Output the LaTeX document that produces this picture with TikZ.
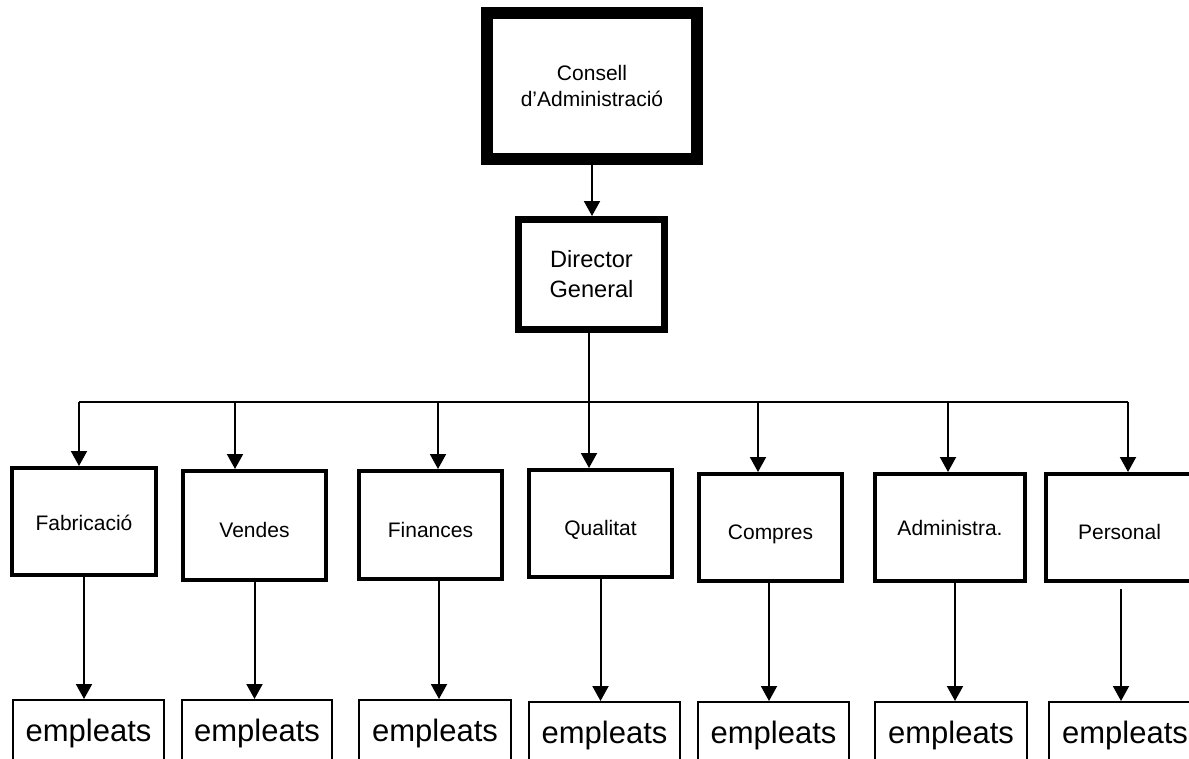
\documentclass[tikz,border=0pt]{standalone}
\usepackage{fontspec}
\setmainfont{Liberation Sans}
\usetikzlibrary{arrows.meta}

\begin{document}
\begin{tikzpicture}[x=1pt, y=-1pt,
  consell/.style={draw, line width=12pt, minimum width=210pt, minimum height=146pt, inner sep=0pt, align=center, font=\fontsize{21}{26}\selectfont},
  director/.style={draw, line width=7pt, minimum width=146pt, minimum height=110pt, inner sep=0pt, align=center, font=\fontsize{23.6}{30}\selectfont},
  dept/.style={draw, line width=4pt, minimum height=107pt, inner sep=0pt, text height=24pt, text depth=0pt, font=\fontsize{21}{25}\selectfont},
  emp/.style={draw, line width=2pt, minimum height=66pt, inner sep=0pt, font=\fontsize{31}{36}\selectfont},
  wire/.style={line width=2pt},
  arr/.style={line width=2pt, -{Triangle[width=16pt,length=15pt]}}]
  \clip (0, 0) rectangle (1189, 758);

  \node[consell] (cons) at (592, 86) {Consell\\d’Administració};
  \node[director] (dir) at (591.5, 274.5) {Director\\General};

  \node[dept, minimum width=144pt, text height=18pt] (fab) at (84, 521.5) {Fabricació};
  \node[dept, minimum width=143pt, minimum height=109pt] (ven) at (254.5, 525.5) {Vendes};
  \node[dept, minimum width=143pt, minimum height=108pt] (fin) at (430.5, 525) {Finances};
  \node[dept, minimum width=143pt] (qua) at (600.5, 523.5) {Qualitat};
  \node[dept, minimum width=143pt] (com) at (770.5, 527.5) {Compres};
  \node[dept, minimum width=150pt, text height=16pt] (adm) at (950, 527.5) {Administra.};
  \node[dept, minimum width=147pt] (per) at (1119.5, 527.5) {Personal};

  \node[emp, minimum width=151pt] (fabE) at (88.5, 733) {empleats};
  \node[emp, minimum width=150pt] (venE) at (257, 733) {empleats};
  \node[emp, minimum width=152pt] (finE) at (435, 733) {empleats};
  \node[emp, minimum width=151pt] (quaE) at (604.5, 735) {empleats};
  \node[emp, minimum width=151pt] (comE) at (773.5, 735) {empleats};
  \node[emp, minimum width=152pt] (admE) at (951, 735) {empleats};
  \node[emp, minimum width=152pt] (perE) at (1125, 735) {empleats};

  % bus
  \coordinate (t1) at (79, 402);
  \coordinate (t2) at (235, 402);
  \coordinate (t3) at (438, 402);
  \coordinate (t4) at (589, 402);
  \coordinate (t5) at (758, 402);
  \coordinate (t6) at (948, 402);
  \coordinate (t7) at (1128, 402);

  \draw [arr] (cons.south) -- (cons.south |- dir.north);
  \draw [wire] (dir.south -| t4) -- (t4);
  \draw [wire] (t1) -- (t7);

  \draw [arr] (t1) -- (t1 |- fab.north);
  \draw [arr] (t2) -- (t2 |- ven.north);
  \draw [arr] (t3) -- (t3 |- fin.north);
  \draw [arr] (t4) -- (t4 |- qua.north);
  \draw [arr] (t5) -- (t5 |- com.north);
  \draw [arr] (t6) -- (t6 |- adm.north);
  \draw [arr] (t7) -- (t7 |- per.north);

  \draw [arr] (fab.south) -- (fab.south |- fabE.north);
  \draw [arr] ([yshift=4pt]ven.south) -- (ven.south |- venE.north);
  \draw [arr] ([xshift=8.5pt, yshift=4pt]fin.south) -- ([xshift=8.5pt]fin.south |- finE.north);
  \draw [arr] (qua.south) -- (qua.south |- quaE.north);
  \draw [arr] ([xshift=-1.5pt, yshift=4pt]com.south) -- ([xshift=-1.5pt]com.south |- comE.north);
  \draw [arr] ([xshift=5pt, yshift=4pt]adm.south) -- ([xshift=5pt]adm.south |- admE.north);
  \draw [arr] ([xshift=1.5pt, yshift=-6pt]per.south) -- ([xshift=1.5pt]per.south |- perE.north);
\end{tikzpicture}
\end{document}
